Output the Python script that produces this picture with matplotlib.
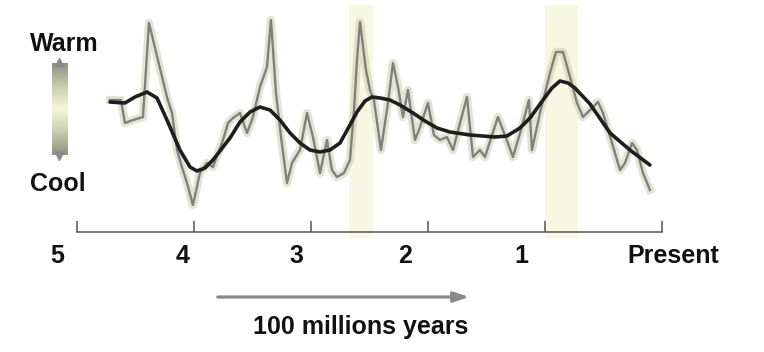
import numpy as np
import matplotlib
matplotlib.use('Agg')
import matplotlib.pyplot as plt
from matplotlib.colors import LinearSegmentedColormap

# time axis: hundreds of millions of years ago, temperature: arbitrary index
raw_t = [4.718, 4.624, 4.590, 4.521, 4.436, 4.385, 4.308, 4.231, 4.188, 4.145,
         4.103, 4.060, 4.009, 3.949, 3.889, 3.838, 3.752, 3.709, 3.667, 3.607,
         3.547, 3.496, 3.436, 3.376, 3.342, 3.299, 3.256, 3.205, 3.162, 3.094,
         3.034, 2.983, 2.923, 2.863, 2.821, 2.778, 2.718, 2.667, 2.632, 2.607,
         2.581, 2.530, 2.496, 2.462, 2.402, 2.342, 2.299, 2.256, 2.214, 2.171,
         2.111, 2.068, 2.000, 1.949, 1.897, 1.838, 1.786, 1.726, 1.667, 1.615,
         1.556, 1.513, 1.402, 1.333, 1.274, 1.205, 1.137, 1.111, 1.043, 0.957,
         0.906, 0.846, 0.786, 0.726, 0.675, 0.615, 0.547, 0.504, 0.427, 0.359,
         0.316, 0.256, 0.214, 0.162, 0.103]
raw_temp = [13.2, 13.2, 10.9, 11.2, 11.5, 20.9, 17.2, 13.5, 11.9, 8.2,
            6.5, 4.9, 2.7, 5.9, 6.9, 6.5, 9.2, 10.9, 11.4, 11.9,
            9.9, 11.5, 14.5, 16.5, 21.2, 13.9, 9.5, 4.9, 6.9, 8.2,
            11.9, 9.5, 5.9, 9.2, 6.2, 5.5, 5.9, 7.2, 12.2, 17.2,
            21.0, 16.2, 14.2, 13.2, 8.2, 12.9, 16.9, 14.5, 11.5, 14.2,
            9.2, 10.5, 12.9, 9.7, 9.2, 9.5, 8.2, 10.9, 13.5, 7.5,
            8.2, 7.5, 11.5, 9.4, 7.5, 10.2, 13.2, 8.2, 11.9, 15.9,
            18.0, 18.0, 15.5, 12.9, 11.5, 12.2, 13.0, 11.9, 8.9, 6.2,
            6.9, 8.9, 8.2, 5.9, 4.2]

smooth_t = [4.718, 4.590, 4.504, 4.402, 4.316, 4.231, 4.120, 4.034, 3.974, 3.906,
            3.838, 3.692, 3.607, 3.521, 3.436, 3.350, 3.265, 3.179, 3.094, 3.009,
            2.923, 2.838, 2.752, 2.667, 2.607, 2.538, 2.479, 2.410, 2.325, 2.239,
            2.128, 2.026, 1.923, 1.812, 1.641, 1.427, 1.325, 1.214, 1.128, 1.017,
            0.940, 0.872, 0.803, 0.744, 0.615, 0.444, 0.274, 0.103]
smooth_temp = [13.0, 12.9, 13.5, 14.0, 13.4, 11.2, 8.2, 6.5, 6.1, 6.4,
               7.2, 9.4, 11.0, 12.0, 12.5, 12.2, 11.2, 9.9, 8.9, 8.2,
               8.0, 8.2, 8.9, 10.7, 12.0, 13.1, 13.5, 13.4, 13.2, 12.7,
               11.9, 11.1, 10.4, 10.0, 9.7, 9.5, 9.6, 10.4, 11.4, 13.2,
               14.4, 15.1, 14.9, 14.4, 12.8, 9.9, 8.2, 6.7]

warm_periods = [(2.675, 2.470), (1.000, 0.718)]

tick_pos = [5, 4, 3, 2, 1, 0]
tick_labels = ['5', '4', '3', '2', '1', 'Present']
label_pos = [5.171, 4.094, 3.128, 2.197, 1.205, -0.094]

plt.rcParams['font.family'] = ['Liberation Sans', 'DejaVu Sans']

fig = plt.figure(figsize=(7.64, 3.52), dpi=100, facecolor='white')
ax = fig.add_axes([0, 0, 1, 1])
ax.axis('off')

# pale warm periods
for a, b in warm_periods:
    ax.axvspan(a, b, ymin=0.324, ymax=0.986, color='#f7f8e4', lw=0, zorder=0)

# uncertainty haze + raw record
ax.plot(raw_t, raw_temp, color='#c9ccaa', lw=6, alpha=0.5,
        solid_joinstyle='round', zorder=1)
ax.plot(raw_t, raw_temp, color='#808080', lw=1.7, solid_joinstyle='round', zorder=2)
# smoothed trend
ax.plot(smooth_t, smooth_temp, color='#1e1e1e', lw=2.6,
        solid_joinstyle='round', solid_capstyle='round', zorder=3)

# time axis
ax.plot([tick_pos[0], tick_pos[-1]], [0, 0], color='#555555', lw=1.1, zorder=2)
ax.vlines(tick_pos, 0, 1.1, color='#555555', lw=1.1, zorder=2)
for p, lab in zip(label_pos, tick_labels):
    ax.text(p, -2.4, lab, ha='center', va='center', fontsize=18,
            fontweight='bold', color='#111111')

# arrow and unit
ax.annotate('', xy=(1.624, -6.5), xytext=(3.821, -6.5),
            arrowprops=dict(arrowstyle='-|>,head_length=0.9,head_width=0.3',
                            color='#8a8a8a', lw=2.3))
ax.text(2.573, -9.5, '100 millions years', ha='center', va='center',
        fontsize=18, fontweight='bold', color='#111111')

# warm / cool indicator
cmap = LinearSegmentedColormap.from_list(
    'wc', ['#8e9280', '#c9ccb2', '#f5f7d8', '#c9ccb2', '#8e9280'])
grad = np.linspace(0, 1, 100).reshape(-1, 1)
ax.imshow(grad, cmap=cmap, extent=(5.214, 5.085, 7.7, 16.9),
          aspect='auto', origin='lower', zorder=2)
ax.plot([5.15], [17.0], marker='^', color='#8a8a8a', ms=6, zorder=3)
ax.plot([5.15], [7.6], marker='v', color='#8a8a8a', ms=6, zorder=3)
ax.text(5.402, 18.8, 'Warm', ha='left', va='center', fontsize=18,
        fontweight='bold', color='#111111')
ax.text(5.402, 4.8, 'Cool', ha='left', va='center', fontsize=18,
        fontweight='bold', color='#111111')
ax.set_xlim(5.658, -0.872)
ax.set_ylim(-12.0, 23.2)

fig.savefig('out.png', dpi=100, facecolor='white')
